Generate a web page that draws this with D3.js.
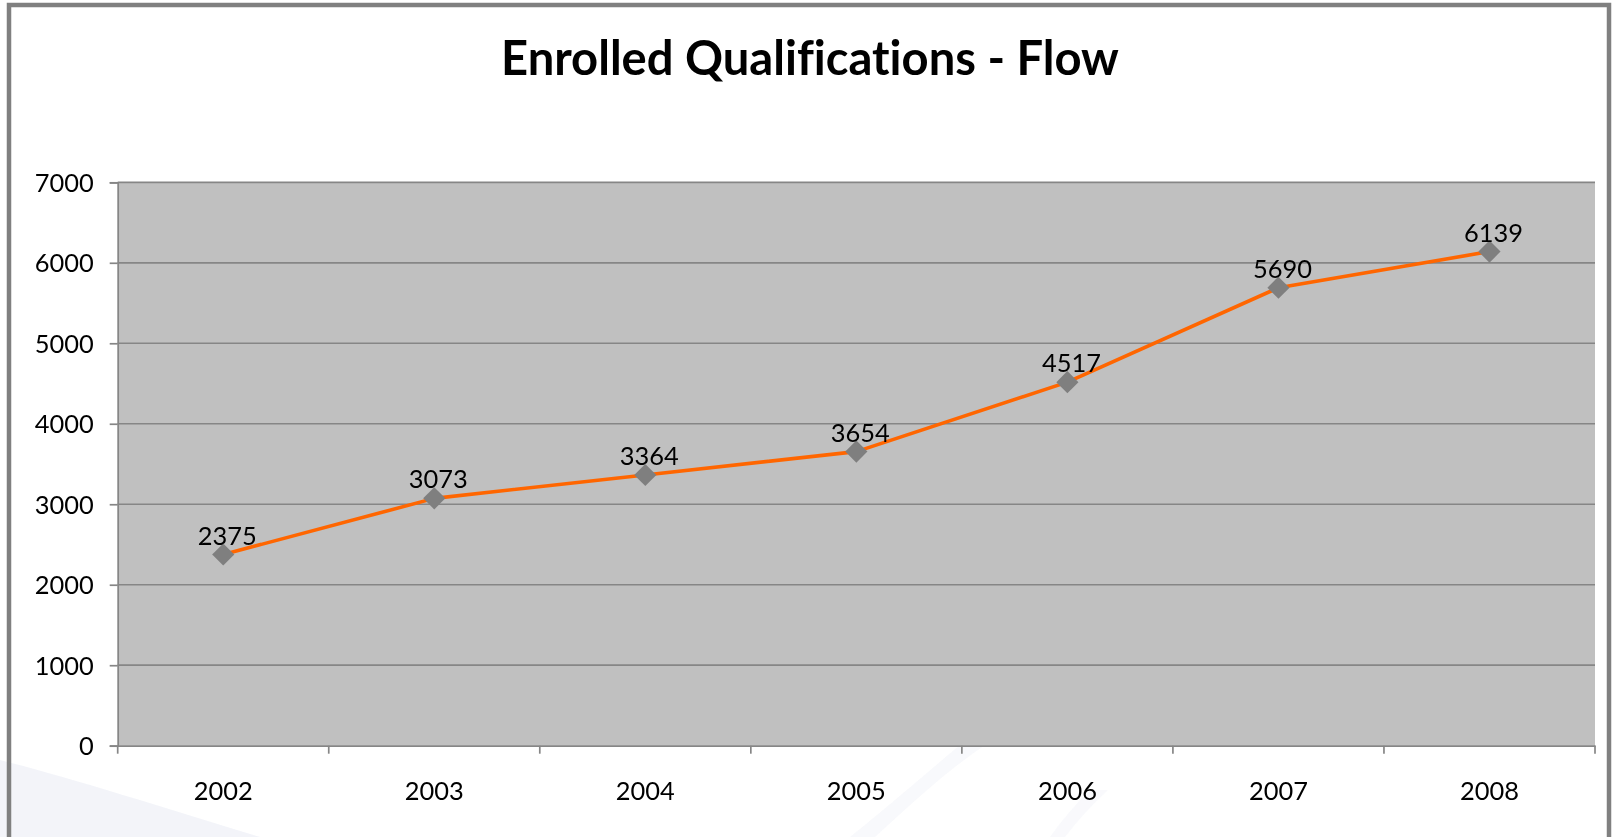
<!DOCTYPE html>
<html>
<head>
<meta charset="utf-8">
<script src="https://cdn.jsdelivr.net/npm/d3@7"></script>
<style>
  html, body { margin: 0; padding: 0; background: #ffffff; overflow: hidden; }
  svg { display: block; }
  text { font-family: Lato, "Open Sans", "DejaVu Sans", sans-serif; fill: #000; font-variant-ligatures: none; font-feature-settings: "liga" 0, "clig" 0; }
</style>
</head>
<body>
<svg id="chart" width="1615" height="837"></svg>
<script>
// ---- data ----
const title = "Enrolled Qualifications - Flow";
const years = ["2002", "2003", "2004", "2005", "2006", "2007", "2008"];
const enrolled = [2375, 3073, 3364, 3654, 4517, 5690, 6139];
const yTicks = [0, 1000, 2000, 3000, 4000, 5000, 6000, 7000];

// ---- layout ----
const W = 1615, H = 837;
const plot = { left: 117.7, right: 1595, top: 182.3, bottom: 745.7 };

const svg = d3.select("#chart");

// faint background swooshes (slide watermark)
const deco = svg.append("g").attr("fill", "#eef0f7").attr("opacity", 0.7);
deco.append("path").attr("d", "M0,760 C60,775 140,800 260,837 L0,837 Z");
deco.append("path").attr("d", "M960,745 C930,770 890,805 850,837 L875,837 C910,805 945,772 985,745 Z").attr("opacity", 0.6);
deco.append("path").attr("d", "M1090,790 C1075,805 1062,820 1050,837 L1065,837 C1078,820 1092,805 1108,790 Z").attr("opacity", 0.5);

// outer frame
svg.append("rect")
  .attr("x", 9).attr("y", 5)
  .attr("width", 1600).attr("height", 900)
  .attr("fill", "none").attr("stroke", "#808080").attr("stroke-width", 4.5);

// helper to fit a font size to a target width
function fitSize(str, weight, targetW) {
  const t = svg.append("text").attr("font-size", 100).attr("font-weight", weight).text(str);
  const w = t.node().getComputedTextLength();
  t.remove();
  return 100 * targetW / w;
}
const labelSize = fitSize("2005", "normal", 59);
const titleSize = fitSize(title, "bold", 618);

// title
svg.append("text")
  .attr("x", 810).attr("y", 75)
  .attr("text-anchor", "middle")
  .attr("font-weight", "bold")
  .attr("font-size", titleSize)
  .text(title);

// scales
const x = d3.scaleBand().domain(years).range([plot.left, plot.right]).padding(0);
const y = d3.scaleLinear().domain([0, 7000]).range([plot.bottom, plot.top]);
const cx = d => x(d) + x.bandwidth() / 2;

// plot background
svg.append("rect")
  .attr("x", plot.left).attr("y", plot.top)
  .attr("width", plot.right - plot.left).attr("height", plot.bottom - plot.top)
  .attr("fill", "#c0c0c0");

// gridlines
svg.append("g").selectAll("line").data(yTicks.filter(v => v > 0)).join("line")
  .attr("x1", plot.left).attr("x2", plot.right)
  .attr("y1", d => y(d)).attr("y2", d => y(d))
  .attr("stroke", "#868686").attr("stroke-width", 1.7);

// y axis
const yAxis = svg.append("g")
  .attr("transform", `translate(${plot.left},0)`)
  .call(d3.axisLeft(y).tickValues(yTicks).tickSize(8).tickPadding(16).tickFormat(d3.format("d")));
yAxis.select(".domain").attr("stroke", "#868686").attr("stroke-width", 1.7);
yAxis.selectAll(".tick line").attr("stroke", "#868686").attr("stroke-width", 1.7);
yAxis.selectAll(".tick text")
  .attr("font-family", "Lato, 'Open Sans', sans-serif")
  .attr("font-size", labelSize).attr("fill", "#000").attr("dy", "0.36em");

// x axis
const xAxis = svg.append("g")
  .attr("transform", `translate(0,${plot.bottom})`)
  .call(d3.axisBottom(x).tickSize(0).tickPadding(36));
xAxis.select(".domain").attr("stroke", "#868686").attr("stroke-width", 1.7);
xAxis.selectAll(".tick text")
  .attr("font-family", "Lato, 'Open Sans', sans-serif")
  .attr("font-size", labelSize).attr("fill", "#000");
// category boundary tick marks
const bounds = years.map(d => x(d)).concat([x(years[years.length - 1]) + x.bandwidth()]);
svg.append("g").selectAll("line").data(bounds).join("line")
  .attr("x1", d => d).attr("x2", d => d)
  .attr("y1", plot.bottom).attr("y2", plot.bottom + 8)
  .attr("stroke", "#868686").attr("stroke-width", 1.7);

// line
const line = d3.line().x((d, i) => cx(years[i])).y(d => y(d));
svg.append("path")
  .datum(enrolled)
  .attr("d", line)
  .attr("fill", "none")
  .attr("stroke", "#ff6600")
  .attr("stroke-width", 3.6)
  .attr("stroke-linejoin", "round");

// diamond markers
const diamond = d3.symbol().type(d3.symbolSquare).size(245);
svg.append("g").selectAll("path").data(enrolled).join("path")
  .attr("d", diamond)
  .attr("transform", (d, i) => `translate(${cx(years[i])},${y(d)}) rotate(45)`)
  .attr("fill", "#7f7f7f");

// data labels
svg.append("g").selectAll("text").data(enrolled).join("text")
  .attr("x", (d, i) => cx(years[i]) + 4)
  .attr("y", d => y(d) - 10)
  .attr("text-anchor", "middle")
  .attr("font-size", labelSize)
  .text(d => d);
</script>
</body>
</html>
